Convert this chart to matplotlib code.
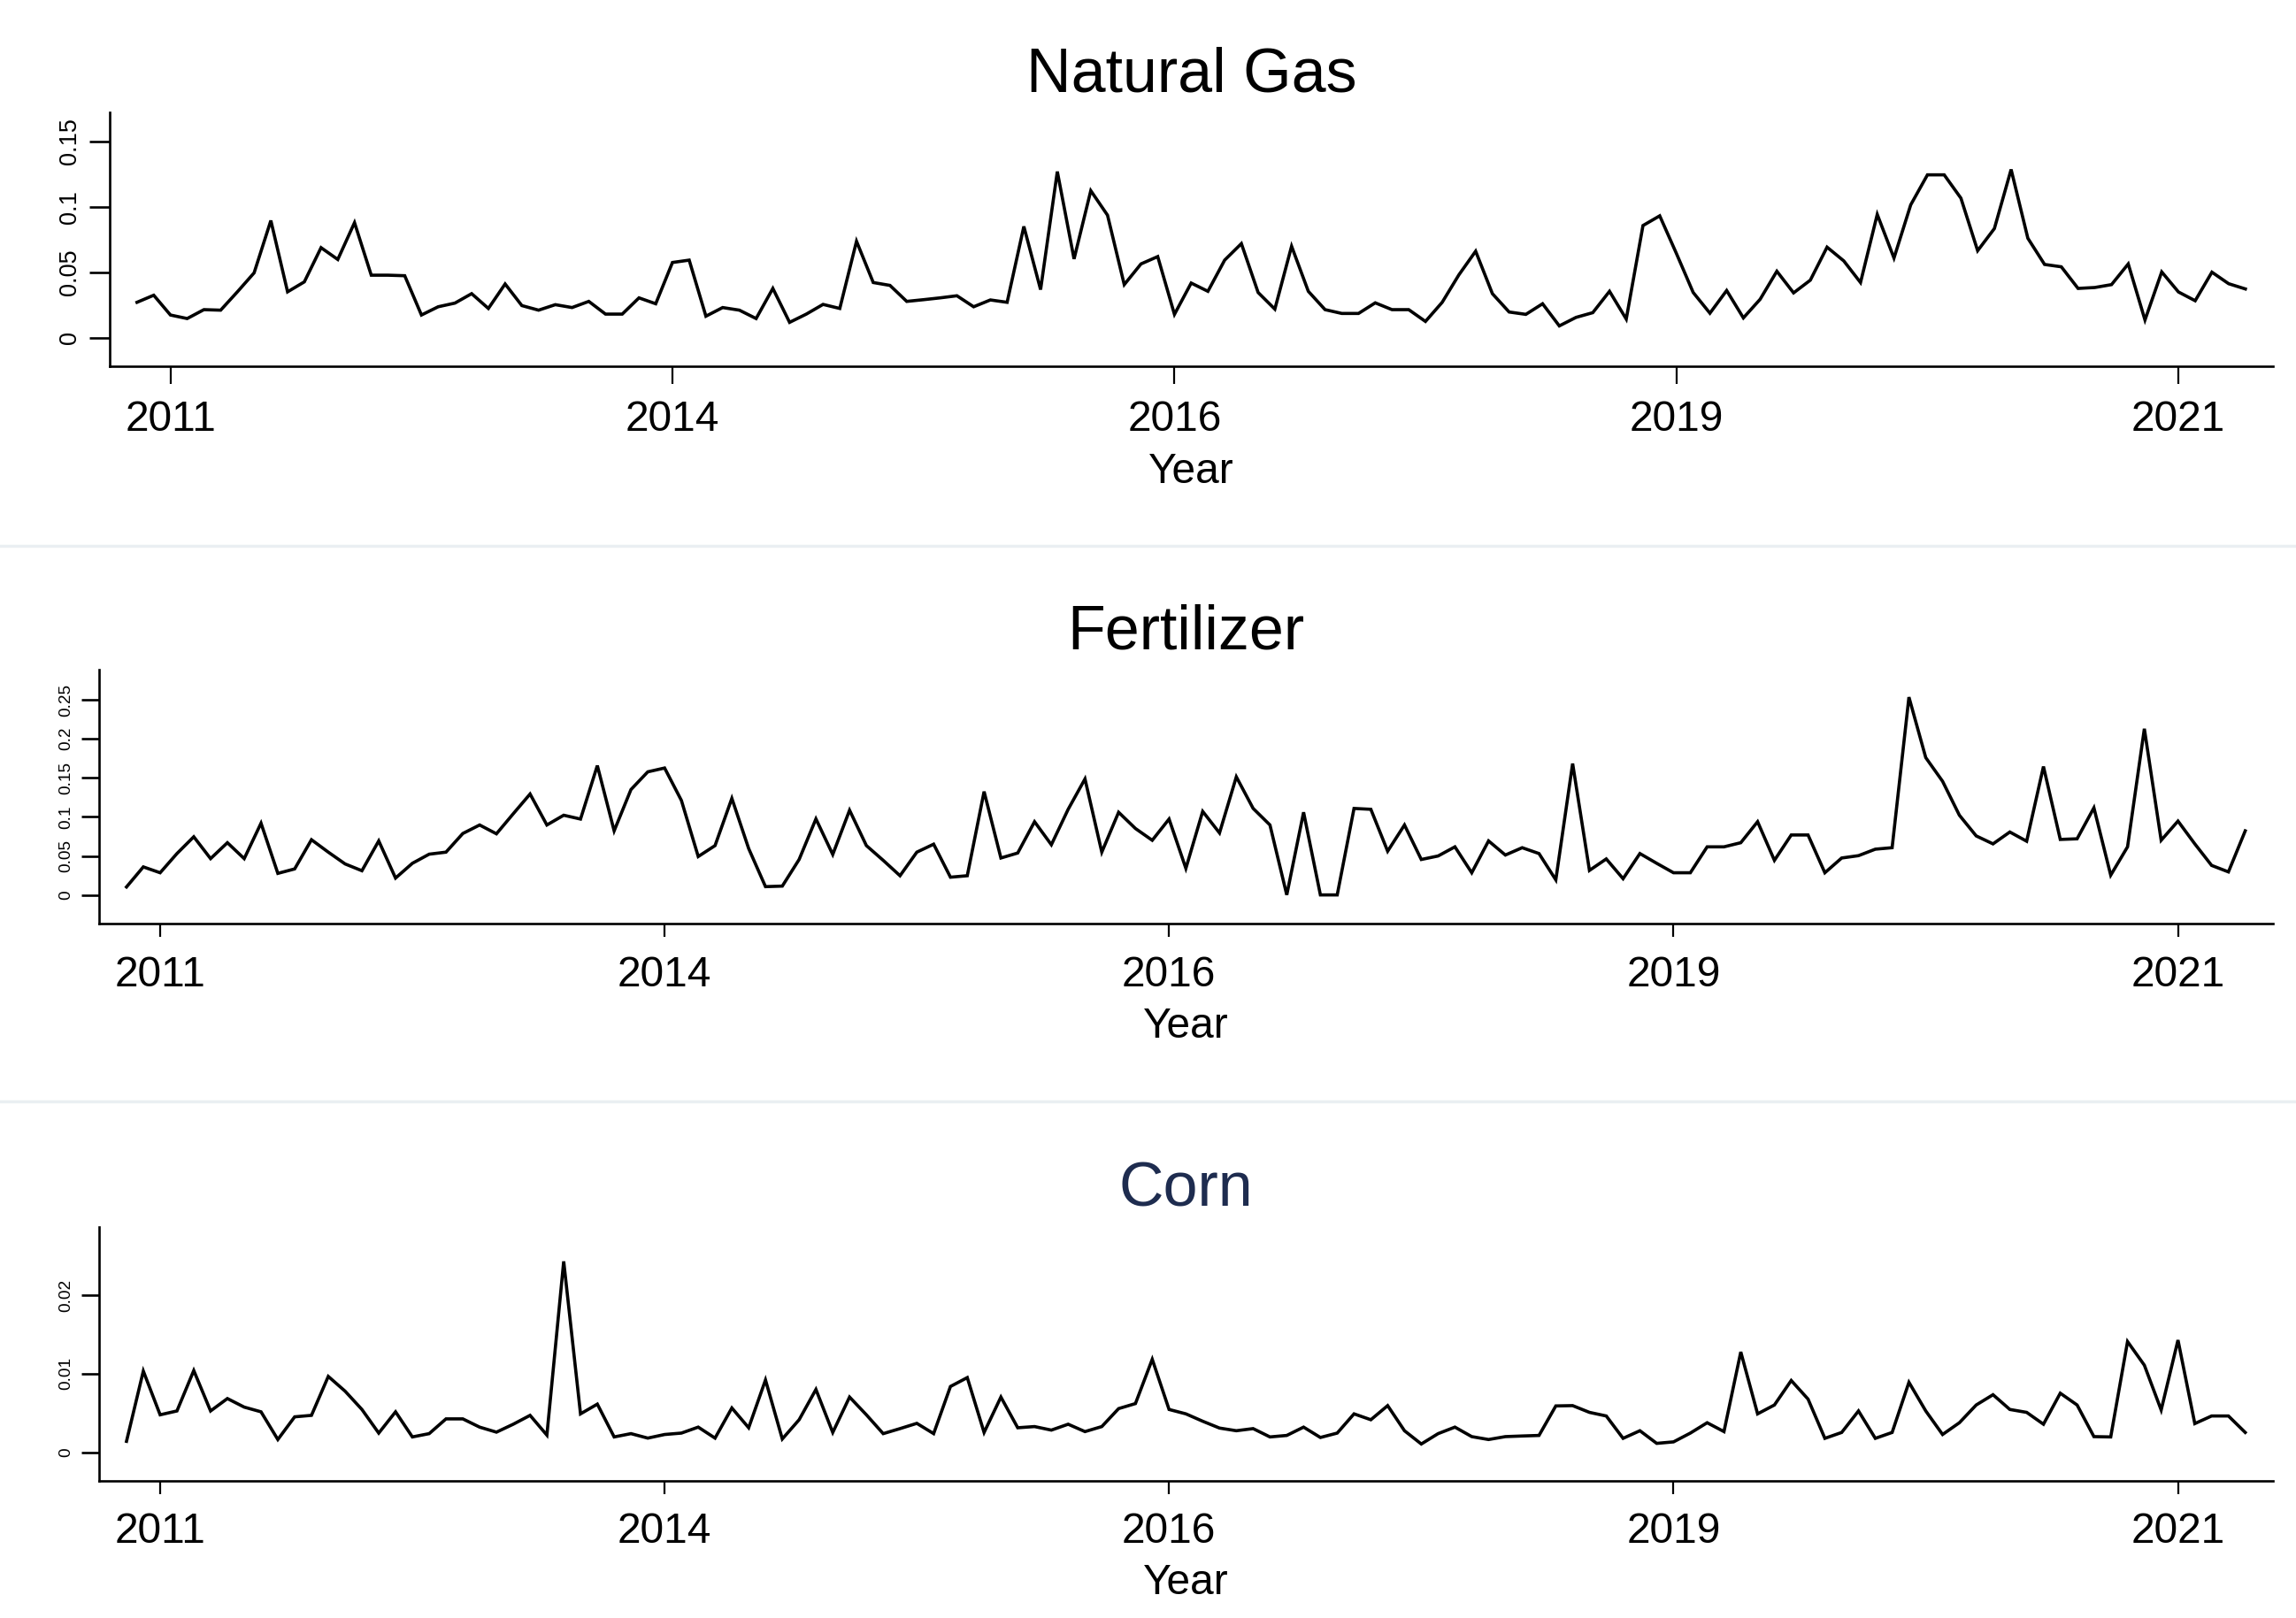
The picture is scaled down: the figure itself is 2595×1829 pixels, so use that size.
import matplotlib
matplotlib.use("Agg")
import matplotlib.pyplot as plt
from matplotlib.lines import Line2D

plt.rcParams['font.family'] = ['Liberation Sans', 'DejaVu Sans']

# period index (0 = first labelled tick); 127 consecutive observations
periods = list(range(-2, 125))

tick_positions = [0, 30, 60, 90, 120]
tick_labels = ["2011", "2014", "2016", "2019", "2021"]

natural_gas = [
    0.027, 0.0324, 0.0173, 0.0146, 0.0214, 0.021, 0.035, 0.0495, 0.0894, 0.035,
    0.0426, 0.0687, 0.0597, 0.0878, 0.0477, 0.0477, 0.0473, 0.0173, 0.0236, 0.0264,
    0.0336, 0.0223, 0.041, 0.0245, 0.021, 0.0252, 0.023, 0.0277, 0.018, 0.018,
    0.0304, 0.0259, 0.0574, 0.0592, 0.0164, 0.023, 0.021, 0.0146, 0.0376, 0.0117,
    0.018, 0.0254, 0.0223, 0.0736, 0.0421, 0.0399, 0.0277, 0.029, 0.0304, 0.032,
    0.0236, 0.0288, 0.027, 0.0849, 0.0367, 0.1268, 0.0601, 0.1122, 0.0935, 0.0405,
    0.0563, 0.0619, 0.0178, 0.0417, 0.0354, 0.0592, 0.0718, 0.0345, 0.0218, 0.0698,
    0.0354, 0.0214, 0.0185, 0.0185, 0.0266, 0.0214, 0.0214, 0.0124, 0.027, 0.048,
    0.066, 0.0336, 0.0196, 0.0178, 0.0259, 0.009, 0.0155, 0.0191, 0.0354, 0.0142,
    0.0856, 0.093, 0.0642, 0.0345, 0.0187, 0.036, 0.0151, 0.0293, 0.0507, 0.0342,
    0.0439, 0.0691, 0.0586, 0.0421, 0.0941, 0.0608, 0.1014, 0.1243, 0.1243, 0.1065,
    0.0664, 0.0833, 0.1284, 0.0759, 0.0559, 0.0541, 0.0376, 0.0383, 0.0405, 0.0563,
    0.0135, 0.0502, 0.0349, 0.0282, 0.05, 0.0412, 0.0372,
]

fertilizer = [
    0.0102, 0.0359, 0.0284, 0.053, 0.0745, 0.0465, 0.0669, 0.0465, 0.0919, 0.0276,
    0.0333, 0.0707, 0.0548, 0.0397, 0.031, 0.0692, 0.0216, 0.0405, 0.0522, 0.0548,
    0.0787, 0.0896, 0.0783, 0.104, 0.1293, 0.0896, 0.1021, 0.0972, 0.1657, 0.0821,
    0.135, 0.1577, 0.1626, 0.121, 0.0492, 0.0632, 0.1237, 0.0594, 0.0106, 0.0113,
    0.0454, 0.0974, 0.0518, 0.1085, 0.0632, 0.0443, 0.0246, 0.0548, 0.065, 0.0227,
    0.0246, 0.1324, 0.0473, 0.0537, 0.0938, 0.0643, 0.1097, 0.1486, 0.0548, 0.1059,
    0.0851, 0.07, 0.0972, 0.034, 0.107, 0.0794, 0.1513, 0.1108, 0.0896, 0.0,
    0.1059, 0.0, 0.0, 0.1108, 0.1097, 0.056, 0.0896, 0.0454, 0.0499, 0.0616,
    0.0284, 0.0692, 0.0511, 0.0605, 0.053, 0.0193, 0.1683, 0.0314, 0.0461, 0.0208,
    0.053, 0.0405, 0.0284, 0.0284, 0.0616, 0.0616, 0.0669, 0.0938, 0.0443, 0.0768,
    0.0768, 0.0284, 0.0473, 0.0503, 0.0586, 0.0605, 0.2534, 0.1759, 0.1456, 0.1021,
    0.0756, 0.0654, 0.0806, 0.0688, 0.1645, 0.0711, 0.0719, 0.1116, 0.0253, 0.0616,
    0.2129, 0.07, 0.0946, 0.0654, 0.0378, 0.0295, 0.0821,
]

corn = [
    0.00139, 0.01034, 0.00477, 0.00526, 0.01041, 0.00526, 0.00684, 0.00575, 0.00515, 0.00162,
    0.00451, 0.0047, 0.00966, 0.00778, 0.00545, 0.00244, 0.00515, 0.00195, 0.00237, 0.00425,
    0.00425, 0.0032, 0.00256, 0.00357, 0.0047, 0.00218, 0.02432, 0.00489, 0.00613, 0.00195,
    0.00237, 0.0018, 0.00226, 0.00244, 0.0032, 0.0018, 0.00564, 0.00312, 0.00921, 0.00169,
    0.00414, 0.008, 0.00252, 0.00703, 0.00477, 0.00237, 0.00301, 0.00368, 0.00237, 0.00838,
    0.00951, 0.00252, 0.00703, 0.00312, 0.00327, 0.00282, 0.00357, 0.00263, 0.00327, 0.00556,
    0.0062, 0.01184, 0.00545, 0.00489, 0.00395, 0.00308, 0.00274, 0.00301, 0.00195, 0.00214,
    0.0032, 0.00188, 0.00244, 0.00489, 0.00414, 0.00594, 0.00274, 0.00105, 0.00237, 0.0032,
    0.00199, 0.00162, 0.00199, 0.00207, 0.00214, 0.0059, 0.00594, 0.00508, 0.00462, 0.00177,
    0.00274, 0.00113, 0.00132, 0.00244, 0.00376, 0.00263, 0.01278, 0.00489, 0.00602, 0.00914,
    0.00677, 0.00177, 0.00252, 0.00526, 0.00177, 0.00252, 0.00891, 0.00526, 0.00226, 0.00376,
    0.00602, 0.00733, 0.00545, 0.00508, 0.00357, 0.00752, 0.00602, 0.00199, 0.00195, 0.0141,
    0.01109, 0.00538, 0.01429, 0.00365, 0.00462, 0.00462, 0.00252,
]

titles = ["Natural Gas", "Fertilizer", "Corn"]
title_colors = ["black", "black", "#1e2c4f"]
series = [natural_gas, fertilizer, corn]
yticks = [[0, 0.05, 0.1, 0.15], [0, 0.05, 0.1, 0.15, 0.2, 0.25], [0, 0.01, 0.02]]
yticklabels = [["0", "0.05", "0.1", "0.15"],
               ["0", "0.05", "0.1", "0.15", "0.2", "0.25"],
               ["0", "0.01", "0.02"]]
ylims = [(-0.0218, 0.172), (-0.0367, 0.2886), (-0.00365, 0.0287)]

W, H = 2595, 1829
DPI = 100
fig = plt.figure(figsize=(W / DPI, H / DPI), dpi=DPI, facecolor="white")

# axes boxes in pixels: left, right, top, bottom
boxes = [(124, 2569, 127, 414), (112, 2569, 757, 1044), (112, 2569, 1387, 1674)]
ytick_fs = [19.5, 13.7, 13.7]
ytick_len = [16.5, 14.5, 14.5]
xtick_len = [14.4, 10.8, 10.8]
xtick_pad = [13, 15, 14.5]
xlabel_y = [-0.338, -0.3275, -0.324]

for i in range(3):
    l, r, t, b = boxes[i]
    ax = fig.add_axes([l / W, 1 - b / H, (r - l) / W, (b - t) / H])
    ax.plot(periods, series[i], color="black", lw=2.6, solid_joinstyle="miter")
    ax.set_xlim(-3.63, 125.65)
    ax.set_ylim(*ylims[i])
    for s in ["top", "right"]:
        ax.spines[s].set_visible(False)
    for s in ["left", "bottom"]:
        ax.spines[s].set_linewidth(1.9)
        ax.spines[s].set_color("black")
    ax.set_xticks(tick_positions)
    ax.set_xticklabels(tick_labels, fontsize=34.5)
    ax.set_yticks(yticks[i])
    ax.set_yticklabels(yticklabels[i], fontsize=ytick_fs[i], rotation=90, va="center")
    ax.tick_params(axis="x", length=xtick_len[i], width=1.6, pad=xtick_pad[i], direction="out")
    ax.tick_params(axis="y", length=ytick_len[i], width=1.9, pad=6.5, direction="out")
    ax.set_xlabel("Year", fontsize=34.5)
    ax.xaxis.set_label_coords(0.5, xlabel_y[i])
    ax.set_title(titles[i], fontsize=50.4, color=title_colors[i], pad=17)

# light separator lines between panels
for ypix in [617, 1245]:
    fig.add_artist(Line2D([0, 1], [1 - ypix / H, 1 - ypix / H], transform=fig.transFigure,
                          color="#eaeff2", lw=2.5))

fig.savefig("out.png", dpi=DPI, facecolor="white")
